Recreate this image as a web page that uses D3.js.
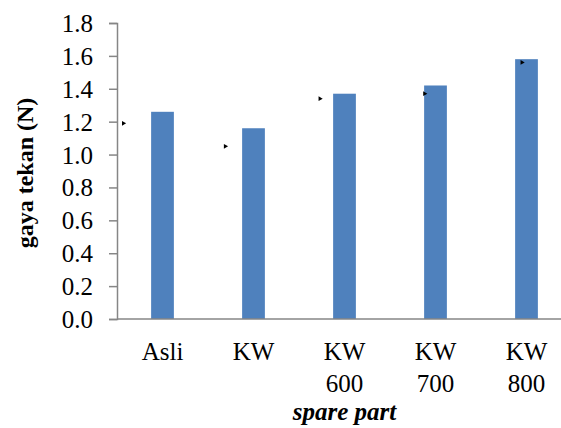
<!DOCTYPE html>
<html>
<head>
<meta charset="utf-8">
<script src="https://cdn.jsdelivr.net/npm/d3@7"></script>
</head>
<body style="margin:0; background:#fff">
<svg id="chart" width="561" height="428"></svg>
<script>
// chart data
const categories = ["Asli", "KW", "KW 600", "KW 700", "KW 800"];
const gayaTekan = [1.26, 1.16, 1.37, 1.42, 1.58];
const yTicks = [0, 0.2, 0.4, 0.6, 0.8, 1.0, 1.2, 1.4, 1.6, 1.8];
// stray label glyphs left of each bar (value level, shift in bands)
const markValues = [1.19, 1.05, 1.34, 1.37, 1.56];
const markShift = [-0.43, -0.31, -0.27, -0.12, -0.05];

const FONT = "Liberation Serif";
const svg = d3.select("#chart");
const margin = {left: 117, top: 23, bottom: 319, right: 572};

/** scales */
const x = d3.scaleBand()
    .domain(categories)
    .range([margin.left, margin.right])
    .paddingInner(0.75)
    .paddingOuter(0.375);

const y = d3.scaleLinear()
    .domain([0, 1.8])
    .range([margin.bottom, margin.top]);

// y axis
const yAxis = svg.append("g")
    .attr("transform", `translate(${margin.left},0)`)
    .call(d3.axisLeft(y)
        .tickValues(yTicks)
        .tickFormat(d3.format(".1f"))
        .tickSizeInner(8)
        .tickSizeOuter(8)
        .tickPadding(16));
yAxis.attr("font-family", FONT).attr("font-size", 25);
yAxis.selectAll("path, line").attr("stroke", "#868686").attr("stroke-width", 1.5);
yAxis.selectAll("text")
    .attr("font-family", FONT)
    .attr("font-size", 25)
    .attr("fill", "#000")
    .attr("dy", "0.34em");

// bars
svg.append("g").selectAll("rect")
    .data(categories)
    .join("rect")
    .attr("x", d => x(d))
    .attr("y", (d, i) => y(gayaTekan[i]))
    .attr("width", x.bandwidth())
    .attr("height", (d, i) => y(0) - y(gayaTekan[i]))
    .attr("fill", "#4F81BD");

// x axis line (no ticks)
svg.append("line")
    .attr("x1", margin.left)
    .attr("x2", margin.right)
    .attr("y1", y(0))
    .attr("y2", y(0))
    .attr("stroke", "#868686")
    .attr("stroke-width", 1.5);

// category labels, split on space
const xl = svg.append("g").selectAll("text")
    .data(categories)
    .join("text")
    .attr("text-anchor", "middle")
    .attr("font-family", FONT)
    .attr("font-size", 25)
    .attr("transform", d => `translate(${x(d) + x.bandwidth() / 2},${y(0) + 41})`);
xl.selectAll("tspan")
    .data(d => d.split(" "))
    .join("tspan")
    .attr("x", 0)
    .attr("dy", (d, i) => i === 0 ? 0 : 32)
    .text(d => d);

// small stray glyphs
svg.append("g").selectAll("path")
    .data(categories)
    .join("path")
    .attr("d", d3.symbol(d3.symbolTriangle, 10))
    .attr("transform", (d, i) =>
        `translate(${x(d) + x.bandwidth() / 2 + markShift[i] * x.step()},${y(markValues[i])}) rotate(-30)`)
    .attr("fill", "#000");

// axis titles
svg.append("text")
    .attr("transform", `translate(33,${(margin.top + margin.bottom) / 2 + 2}) rotate(-90)`)
    .attr("text-anchor", "middle")
    .attr("font-family", FONT)
    .attr("font-size", 24)
    .attr("font-weight", "bold")
    .text("gaya tekan (N)");

svg.append("text")
    .attr("x", (margin.left + margin.right) / 2)
    .attr("y", 420)
    .attr("text-anchor", "middle")
    .attr("font-family", FONT)
    .attr("font-size", 25)
    .attr("font-weight", "bold")
    .attr("font-style", "italic")
    .text("spare part");
</script>
</body>
</html>
